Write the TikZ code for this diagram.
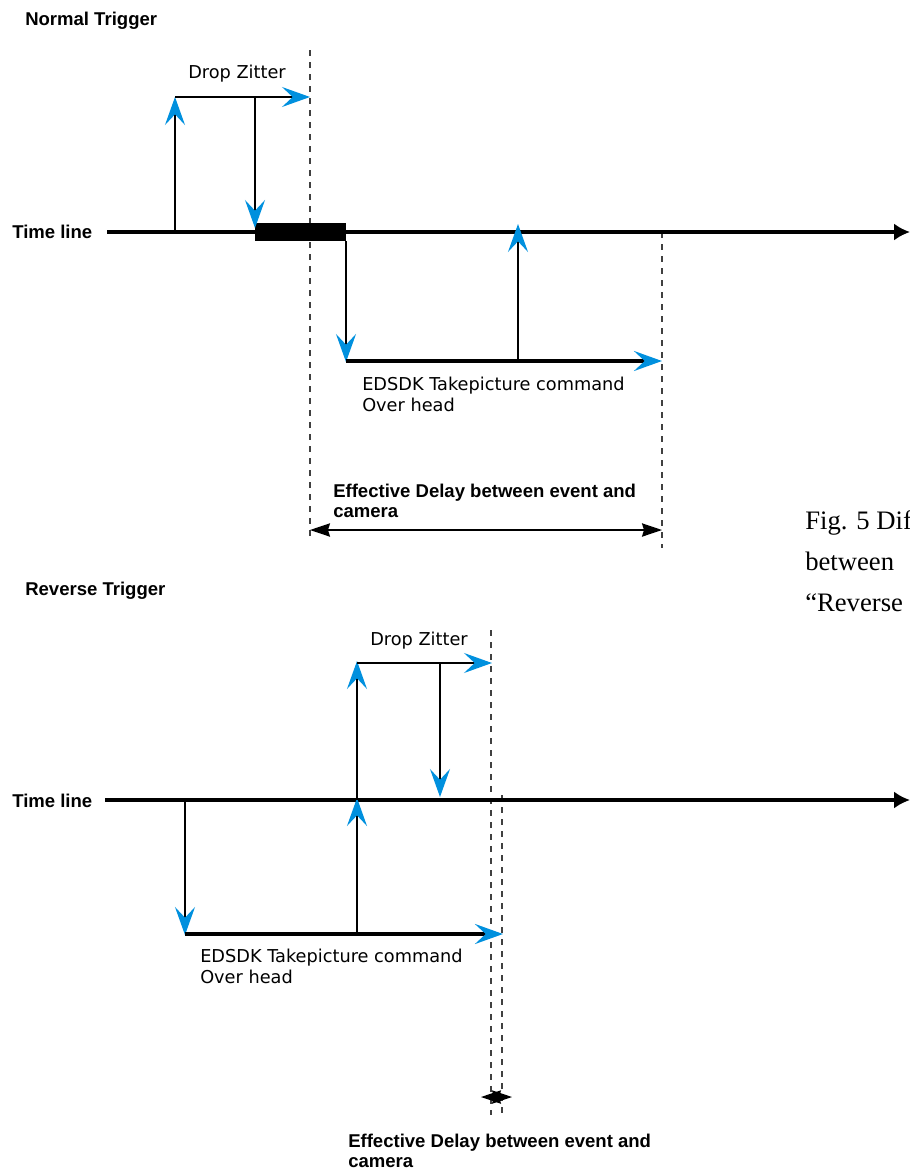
\documentclass[tikz,border=0pt]{standalone}
\usepackage{fontspec}
\setmainfont{Liberation Serif}
\newfontfamily\gothicfont{DejaVu Sans}
\newfontfamily\boldgothicfont{Liberation Sans}
\usetikzlibrary{arrows.meta}
\definecolor{tipblue}{RGB}{0,144,222}

\tikzset{
  bluetip/.tip={Stealth[length=21pt,width=15pt,inset=8pt,color=tipblue]},
  signal/.style={line width=1.1pt, -bluetip},
  overhead/.style={line width=2.4pt, -bluetip},
  timeline/.style={line width=2.6pt, -{Latex[length=12pt,width=13pt]}},
  delay/.style={line width=1.1pt, {Stealth[length=15pt,width=10pt,inset=1.5pt]}-{Stealth[length=15pt,width=10pt,inset=1.5pt]}},
  guide/.style={black!75, line width=0.8pt, dash pattern=on 4.5pt off 4.5pt},
  textlabel/.style={font=\gothicfont\fontsize{13.3}{15.75}\selectfont, inner sep=0pt, align=left, anchor=base west},
  titletext/.style={font=\boldgothicfont\bfseries\fontsize{13.9}{15}\selectfont, inner sep=0pt, align=left, anchor=base west},
}

\begin{document}
\begin{tikzpicture}[x=0.75pt,y=0.75pt,yscale=-1,xscale=1]
\useasboundingbox (0,0) rectangle (910,1171);

%%%%%%%% Normal Trigger %%%%%%%%
% Text Node (multi-line nodes sit on their last baseline)
\node[titletext] (normal title) at (25,25) {Normal Trigger};
\node[titletext] (normal timeline label) at (12,238) {Time line};
\node[textlabel] (normal zitter) at (188,78) {Drop Zitter};
\node[textlabel] (normal overhead) at (362,411) {EDSDK Takepicture command\\Over head};
\node[titletext] (normal delay) at (333,517) {Effective Delay between event and\\camera};

% Points
\coordinate (n guide1 top) at (310,50);
\coordinate (n guide1 bot) at (310,540);
\coordinate (n guide2 top) at (662,232);
\coordinate (n guide2 bot) at (662,548);
\coordinate (n line start) at (107,232);
\coordinate (n line end) at (910,232);
\coordinate (n event) at (175,232);
\coordinate (n event top) at (175,97);
\coordinate (n zitter end) at (310,97);
\coordinate (n drop top) at (255,97);
\coordinate (n drop) at (255,228);
\coordinate (n busy start) at (255,223);
\coordinate (n busy end) at (346,241);
\coordinate (n cmd) at (346,362);
\coordinate (n cmd line) at (346,361);
\coordinate (n shot end) at (662,361);
\coordinate (n shot) at (518,361);
\coordinate (n shot top) at (518,224);
\coordinate (n delay start) at (310,530);
\coordinate (n delay end) at (662,530);

%Dashed Lines
\draw[guide] (n guide1 top) -- (n guide1 bot);
\draw[guide] (n guide2 top) -- (n guide2 bot);

%Time line
\draw[timeline] (n line start) -- (n line end);
\fill (n busy start) rectangle (n busy end);

%Arrows
\draw[signal] (n event) -- (n event top);
\draw[signal] (n event top) -- (n zitter end);
\draw[signal] (n drop top) -- (n drop);
\draw[signal] (n busy end) -- (n cmd);
\draw[overhead] (n cmd line) -- (n shot end);
\draw[signal] (n shot) -- (n shot top);
\draw[delay] (n delay start) -- (n delay end);

%%%%%%%% Reverse Trigger %%%%%%%%
% Text Node
\node[titletext] (reverse title) at (25,595) {Reverse Trigger};
\node[titletext] (reverse timeline label) at (12,807) {Time line};
\node[textlabel] (reverse zitter) at (370,645) {Drop Zitter};
\node[textlabel] (reverse overhead) at (200,983) {EDSDK Takepicture command\\Over head};
\node[titletext] (reverse delay) at (348,1167) {Effective Delay between event and\\camera};

% Points
\coordinate (r guide1 top) at (491,630);
\coordinate (r guide1 bot) at (491,1115);
\coordinate (r guide2 top) at (502,795);
\coordinate (r guide2 bot) at (502,1115);
\coordinate (r line start) at (105,800);
\coordinate (r line end) at (910,800);
\coordinate (r cmd top) at (185,800);
\coordinate (r cmd) at (185,935);
\coordinate (r cmd line) at (185,934);
\coordinate (r shot end) at (503,934);
\coordinate (r shot) at (357,934);
\coordinate (r shot top) at (357,798);
\coordinate (r event) at (357,800);
\coordinate (r event top) at (357,661);
\coordinate (r zitter start) at (357,663);
\coordinate (r zitter end) at (492,663);
\coordinate (r drop top) at (440,663);
\coordinate (r drop) at (440,797);
\coordinate (r delay start) at (481,1097);
\coordinate (r delay end) at (512,1097);

%Dashed Lines
\draw[guide] (r guide1 top) -- (r guide1 bot);
\draw[guide] (r guide2 top) -- (r guide2 bot);

%Time line
\draw[timeline] (r line start) -- (r line end);

%Arrows
\draw[signal] (r cmd top) -- (r cmd);
\draw[overhead] (r cmd line) -- (r shot end);
\draw[signal] (r shot) -- (r shot top);
\draw[signal] (r event) -- (r event top);
\draw[signal] (r zitter start) -- (r zitter end);
\draw[signal] (r drop top) -- (r drop);
\draw[delay] (r delay start) -- (r delay end);

%%%%%%%% Caption %%%%%%%%
% Text Node
\node[anchor=base west, inner sep=0pt, align=left, font=\fontsize{20}{30.75}\selectfont] (caption) at (805,611) {Fig. 5 Dif\\between\\``Reverse};

\end{tikzpicture}
\end{document}
